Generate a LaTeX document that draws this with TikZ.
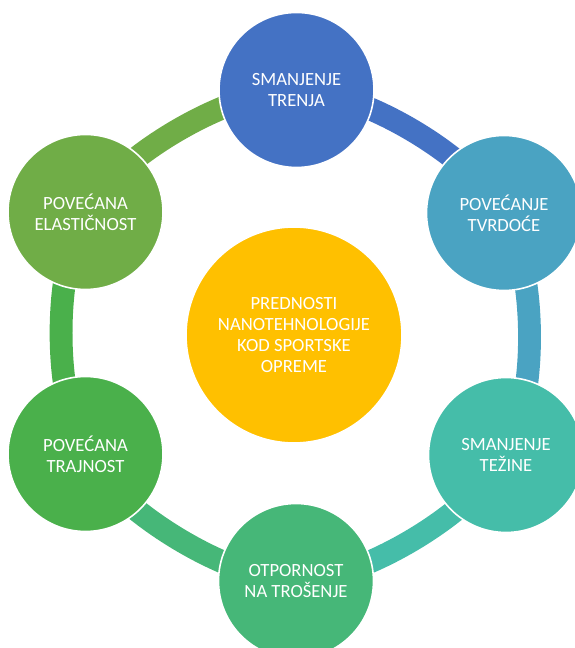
\documentclass[tikz,border=0pt]{standalone}
\usepackage{fontspec}
\setmainfont{Carlito}
\definecolor{cBlue}{HTML}{4472C4}
\definecolor{cTeal}{HTML}{4AA3C2}
\definecolor{cSea}{HTML}{45BDA9}
\definecolor{cJade}{HTML}{46B778}
\definecolor{cLeaf}{HTML}{4AB04B}
\definecolor{cGrass}{HTML}{70AD47}
\definecolor{cGold}{HTML}{FFC000}

\begin{document}
\begin{tikzpicture}[x=0.02cm, y=0.02cm,
  ring/.style={line width=13pt},
  bubble/.style={circle, draw=white, line width=0.9pt, minimum size=3.1cm, inner sep=0pt,
    text=white, align=center, font=\fontsize{10.6}{11.8}\selectfont},
  hub/.style={bubble, minimum size=4.32cm}]
\useasboundingbox (-295,-313) rectangle (279,335);
\coordinate (p1) at (1.5,245);
\coordinate (p2) at (209,122);
\coordinate (p3) at (211,-120);
\coordinate (p4) at (1,-246);
\coordinate (p5) at (-209.5,-119);
\coordinate (p6) at (-209.5,123);
% ring pieces, one colour per step
\foreach \a/\b/\c in {p1/p2/cBlue, p2/p3/cTeal, p3/p4/cSea, p4/p5/cJade, p5/p6/cLeaf, p6/p1/cGrass}
  \draw[ring, \c] (\a) to[bend left=30, looseness=0.69] (\b);
\node[hub, fill=cGold] (centar) at (-1,0) {PREDNOSTI\\NANOTEHNOLOGIJE\\KOD SPORTSKE\\OPREME};
\node[bubble, fill=cBlue] (trenje) at (p1) {SMANJENJE\\TRENJA};
\node[bubble, fill=cTeal] (tvrdoca) at (p2) {POVEĆANJE\\TVRDOĆE};
\node[bubble, fill=cSea] (tezina) at (p3) {SMANJENJE\\TEŽINE};
\node[bubble, fill=cJade] (trosenje) at (p4) {OTPORNOST\\NA TROŠENJE};
\node[bubble, fill=cLeaf] (trajnost) at (p5) {POVEĆANA\\TRAJNOST};
\node[bubble, fill=cGrass] (elasticnost) at (p6) {POVEĆANA\\ELASTIČNOST};
\end{tikzpicture}
\end{document}
